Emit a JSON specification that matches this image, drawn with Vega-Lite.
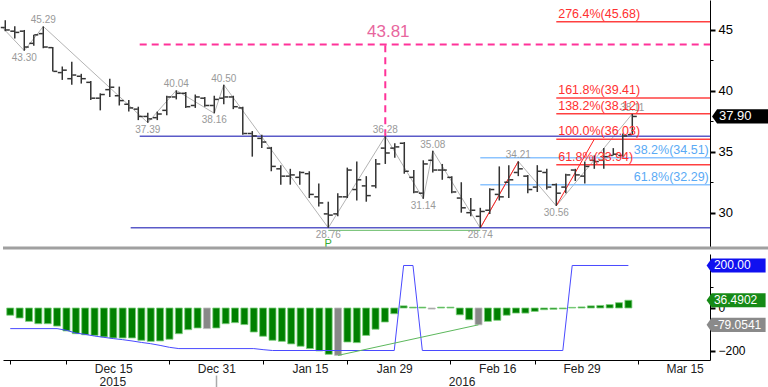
{
"$schema": "https://vega.github.io/schema/vega-lite/v6.json",
"padding": 0,
"spacing": 4,
"background": "white",
"config": {"view": {"stroke": null}, "font": "Liberation Sans", "axis": {"grid": false, "title": null, "labelFont": "Liberation Sans"}},
"datasets": {
"ohlc": [
{"i":0,"o":45.2,"h":45.8,"l":44.9,"c":45.0},
{"i":1,"o":44.9,"h":45.3,"l":44.3,"c":44.8},
{"i":2,"o":44.9,"h":45.0,"l":43.3,"c":43.6},
{"i":3,"o":43.9,"h":44.6,"l":43.7,"c":44.6},
{"i":4,"o":44.7,"h":45.29,"l":43.5,"c":43.6},
{"i":5,"o":43.55,"h":43.6,"l":41.6,"c":41.6},
{"i":6,"o":41.5,"h":42.0,"l":40.9,"c":41.7},
{"i":7,"o":41.0,"h":42.4,"l":40.5,"c":41.3},
{"i":8,"o":41.2,"h":41.4,"l":40.6,"c":41.0},
{"i":9,"o":40.7,"h":40.8,"l":39.25,"c":39.4},
{"i":10,"o":39.4,"h":39.8,"l":38.4,"c":39.7},
{"i":11,"o":40.1,"h":41.0,"l":39.5,"c":40.3},
{"i":12,"o":39.6,"h":40.35,"l":38.8,"c":39.2},
{"i":13,"o":38.9,"h":39.25,"l":38.3,"c":38.6},
{"i":14,"o":38.5,"h":38.7,"l":37.6,"c":37.9},
{"i":15,"o":37.9,"h":38.2,"l":37.39,"c":37.7},
{"i":16,"o":37.8,"h":38.3,"l":37.6,"c":38.1},
{"i":17,"o":38.4,"h":39.6,"l":38.0,"c":39.5},
{"i":18,"o":39.5,"h":40.04,"l":39.3,"c":39.8},
{"i":19,"o":39.8,"h":39.9,"l":38.6,"c":38.7},
{"i":20,"o":38.8,"h":39.7,"l":38.6,"c":39.5},
{"i":21,"o":39.4,"h":39.5,"l":38.7,"c":38.8},
{"i":22,"o":38.8,"h":39.6,"l":38.16,"c":39.3},
{"i":23,"o":39.4,"h":40.5,"l":38.9,"c":39.5},
{"i":24,"o":39.5,"h":39.6,"l":38.5,"c":38.7},
{"i":25,"o":38.6,"h":38.7,"l":36.4,"c":36.5},
{"i":26,"o":36.5,"h":36.7,"l":34.6,"c":36.3},
{"i":27,"o":36.1,"h":36.4,"l":35.3,"c":35.8},
{"i":28,"o":35.3,"h":35.4,"l":33.4,"c":33.8},
{"i":29,"o":33.6,"h":33.9,"l":32.3,"c":33.0},
{"i":30,"o":33.0,"h":33.6,"l":32.3,"c":33.1},
{"i":31,"o":32.9,"h":33.4,"l":32.3,"c":33.3},
{"i":32,"o":33.2,"h":33.4,"l":31.2,"c":31.5},
{"i":33,"o":31.3,"h":32.4,"l":30.5,"c":30.8},
{"i":34,"o":29.9,"h":30.9,"l":28.76,"c":29.8},
{"i":35,"o":29.9,"h":31.6,"l":29.7,"c":31.3},
{"i":36,"o":31.3,"h":33.7,"l":31.2,"c":33.5},
{"i":37,"o":31.9,"h":34.2,"l":31.0,"c":32.7},
{"i":38,"o":32.2,"h":33.0,"l":30.9,"c":31.4},
{"i":39,"o":32.2,"h":34.4,"l":32.0,"c":34.0},
{"i":40,"o":35.3,"h":36.28,"l":34.0,"c":34.9},
{"i":41,"o":35.3,"h":35.7,"l":34.5,"c":35.4},
{"i":42,"o":35.7,"h":35.8,"l":33.2,"c":33.4},
{"i":43,"o":32.9,"h":33.5,"l":31.6,"c":31.7},
{"i":44,"o":31.6,"h":34.3,"l":31.14,"c":34.0},
{"i":45,"o":34.3,"h":35.08,"l":33.3,"c":33.5},
{"i":46,"o":33.5,"h":34.0,"l":32.7,"c":33.5},
{"i":47,"o":32.9,"h":33.0,"l":31.6,"c":31.7},
{"i":48,"o":31.2,"h":32.5,"l":30.0,"c":30.4},
{"i":49,"o":30.0,"h":31.2,"l":29.7,"c":30.2},
{"i":50,"o":29.7,"h":30.4,"l":28.74,"c":30.1},
{"i":51,"o":30.2,"h":32.0,"l":29.9,"c":31.9},
{"i":52,"o":31.5,"h":33.8,"l":31.0,"c":31.3},
{"i":53,"o":32.5,"h":33.9,"l":31.2,"c":32.7},
{"i":54,"o":33.3,"h":34.21,"l":33.0,"c":33.6},
{"i":55,"o":33.0,"h":33.1,"l":31.6,"c":31.9},
{"i":56,"o":32.1,"h":33.9,"l":31.7,"c":33.4},
{"i":57,"o":33.3,"h":33.6,"l":31.9,"c":32.1},
{"i":58,"o":32.3,"h":32.4,"l":30.56,"c":31.6},
{"i":59,"o":32.1,"h":33.2,"l":31.6,"c":33.1},
{"i":60,"o":33.5,"h":33.6,"l":32.6,"c":33.1},
{"i":61,"o":33.0,"h":34.2,"l":32.4,"c":33.8},
{"i":62,"o":34.3,"h":34.7,"l":33.6,"c":34.2},
{"i":63,"o":34.3,"h":35.3,"l":33.6,"c":34.6},
{"i":64,"o":34.7,"h":35.3,"l":34.7,"c":34.8},
{"i":65,"o":34.7,"h":36.5,"l":34.6,"c":36.3},
{"i":66,"o":36.4,"h":38.11,"l":36.4,"c":37.9}
],
"zig": [
{"i":-0.24,"p":45.15,"lab":"","pos":"n"},
{"i":2,"p":43.30,"lab":"43.30","pos":"lo"},
{"i":4,"p":45.29,"lab":"45.29","pos":"hi"},
{"i":15,"p":37.39,"lab":"37.39","pos":"lo"},
{"i":18,"p":40.04,"lab":"40.04","pos":"hi"},
{"i":22,"p":38.16,"lab":"38.16","pos":"lo"},
{"i":23,"p":40.50,"lab":"40.50","pos":"hi"},
{"i":34,"p":28.76,"lab":"28.76","pos":"lo"},
{"i":40,"p":36.28,"lab":"36.28","pos":"hi"},
{"i":44,"p":31.14,"lab":"31.14","pos":"lo"},
{"i":45,"p":35.08,"lab":"35.08","pos":"hi"},
{"i":50,"p":28.74,"lab":"28.74","pos":"lo"},
{"i":54,"p":34.21,"lab":"34.21","pos":"hi"},
{"i":58,"p":30.56,"lab":"30.56","pos":"lo"},
{"i":66,"p":38.11,"lab":"38.11","pos":"hi"}
],
"hblue": [{"x1":14.15,"x2":74.18,"y":36.28},{"x1":13.2,"x2":74.18,"y":28.76}],
"vmag": [{"x":40,"y1":36.28,"y2":43.81}],
"hmag": [{"x1":14.15,"x2":74.18,"y":43.81}],
"fibred": [
{"x1":58,"x2":74.18,"tx":58.2,"y":45.68,"t":"276.4%(45.68)"},
{"x1":58,"x2":74.18,"tx":58.2,"y":39.41,"t":"161.8%(39.41)"},
{"x1":58,"x2":74.18,"tx":58.2,"y":38.12,"t":"138.2%(38.12)"},
{"x1":58,"x2":74.18,"tx":58.2,"y":36.03,"t":"100.0%(36.03)"},
{"x1":58,"x2":74.18,"tx":58.2,"y":33.94,"t":"61.8%(33.94)"}
],
"fibblue": [
{"x1":50,"x2":74.18,"tx":74.05,"y":34.51,"t":"38.2%(34.51)"},
{"x1":50,"x2":74.18,"tx":74.05,"y":32.29,"t":"61.8%(32.29)"}
],
"greenup": [{"x1":34,"x2":50,"y":28.55,"t":"P","ty":27.42}],
"legs": [{"g":"a","i":50,"p":28.74},{"g":"a","i":54,"p":34.21},{"g":"b","i":58,"p":30.56},{"g":"b","i":62,"p":36.03}],
"sepline": [{"x1":-0.24,"x2":80.6,"y":27.1}],
"tagup": [{"i":77.5,"ti":75.13,"v":37.9,"t":"37.90"}],
"hist": [
{"i":0,"v":-34,"hl":"n"},{"i":1,"v":-47,"hl":"n"},{"i":2,"v":-63,"hl":"n"},{"i":3,"v":-74,"hl":"n"},
{"i":4,"v":-74,"hl":"n"},{"i":5,"v":-85,"hl":"n"},{"i":6,"v":-108,"hl":"n"},{"i":7,"v":-121,"hl":"n"},
{"i":8,"v":-126,"hl":"n"},{"i":9,"v":-129,"hl":"n"},{"i":10,"v":-136,"hl":"n"},{"i":11,"v":-141,"hl":"n"},
{"i":12,"v":-141,"hl":"n"},{"i":13,"v":-141,"hl":"n"},{"i":14,"v":-152,"hl":"n"},{"i":15,"v":-157,"hl":"n"},
{"i":16,"v":-155,"hl":"n"},{"i":17,"v":-147,"hl":"n"},{"i":18,"v":-121,"hl":"n"},{"i":19,"v":-102,"hl":"n"},
{"i":20,"v":-94,"hl":"n"},{"i":21,"v":-97,"hl":"y"},{"i":22,"v":-94,"hl":"n"},{"i":23,"v":-74,"hl":"n"},
{"i":24,"v":-69,"hl":"n"},{"i":25,"v":-78,"hl":"n"},{"i":26,"v":-113,"hl":"n"},{"i":27,"v":-133,"hl":"n"},
{"i":28,"v":-152,"hl":"n"},{"i":29,"v":-157,"hl":"n"},{"i":30,"v":-169,"hl":"n"},{"i":31,"v":-180,"hl":"n"},
{"i":32,"v":-191,"hl":"n"},{"i":33,"v":-202,"hl":"n"},{"i":34,"v":-218,"hl":"n"},{"i":35,"v":-223,"hl":"y"},
{"i":36,"v":-160,"hl":"n"},{"i":37,"v":-163,"hl":"n"},{"i":38,"v":-129,"hl":"n"},{"i":39,"v":-100,"hl":"n"},
{"i":40,"v":-66,"hl":"n"},{"i":41,"v":-27,"hl":"n"},{"i":42,"v":10,"hl":"n"},{"i":43,"v":4,"hl":"n"},
{"i":44,"v":4,"hl":"n"},{"i":45,"v":-5,"hl":"y"},{"i":46,"v":4,"hl":"n"},{"i":47,"v":4,"hl":"n"},
{"i":48,"v":-32,"hl":"n"},{"i":49,"v":-55,"hl":"n"},{"i":50,"v":-79.05,"hl":"y"},{"i":51,"v":-63,"hl":"n"},
{"i":52,"v":-58,"hl":"n"},{"i":53,"v":-34,"hl":"n"},{"i":54,"v":-24,"hl":"n"},{"i":55,"v":-24,"hl":"n"},
{"i":56,"v":-16,"hl":"n"},{"i":57,"v":-8,"hl":"n"},{"i":58,"v":-6,"hl":"n"},{"i":59,"v":-4,"hl":"n"},
{"i":60,"v":3,"hl":"n"},{"i":61,"v":5,"hl":"n"},{"i":62,"v":10,"hl":"n"},{"i":63,"v":12,"hl":"n"},
{"i":64,"v":16,"hl":"n"},{"i":65,"v":25,"hl":"n"},{"i":66,"v":36.49,"hl":"n"}
],
"osc": [
{"i":0,"v":-97},{"i":5,"v":-97},{"i":6,"v":-105},{"i":7,"v":-118},{"i":8,"v":-124},{"i":9,"v":-132},
{"i":10,"v":-138},{"i":11,"v":-144},{"i":12,"v":-149},{"i":13,"v":-155},{"i":14,"v":-162},{"i":15,"v":-168},
{"i":16,"v":-176},{"i":17,"v":-185},{"i":18,"v":-191},{"i":26,"v":-191},{"i":27,"v":-196},{"i":28,"v":-200},
{"i":41,"v":-200},{"i":42,"v":200},{"i":43,"v":200},{"i":44,"v":-200},{"i":59,"v":-200},{"i":60,"v":200},{"i":66,"v":200}
],
"divlow": [{"i":35,"v":-223},{"i":50,"v":-79.05}],
"taglow": [
{"i":77.5,"ti":75.13,"v":200,"t":"200.00","k":"osc"},
{"i":77.5,"ti":75.13,"v":36.49,"t":"36.4902","k":"hist"},
{"i":77.5,"ti":75.13,"v":-79.05,"t":"-79.0541","k":"div"}
]
},
"vconcat": [
{
"width": 707, "height": 248,
"resolve": {"axis": {"x": "independent", "y": "independent"}},
"layer": [
{"data": {"name": "zig"}, "mark": {"type": "line", "color": "#b4b4b4", "strokeWidth": 1},
 "encoding": {
  "x": {"field": "i", "type": "quantitative", "scale": {"domain": [-0.24, 74.18], "nice": false, "zero": false}, "axis": null},
  "y": {"field": "p", "type": "quantitative", "scale": {"domain": [27.1, 47.46], "nice": false, "zero": false},
        "axis": {"orient": "right", "values": [30, 35, 40, 45], "tickSize": 5, "tickWidth": 2, "tickColor": "#000", "domainColor": "#000", "domainWidth": 1, "labelFontSize": 13, "labelColor": "#000", "labelPadding": 3}}}},
{"data": {"name": "hblue"}, "mark": {"type": "rule", "color": "#5a5ac8", "strokeWidth": 1.5},
 "encoding": {"x": {"field": "x1", "type": "quantitative", "axis": null}, "x2": {"field": "x2"},
  "y": {"field": "y", "type": "quantitative", "axis": {"orient": "right", "values": [32.5, 37.5, 42.5], "tickSize": 3, "tickColor": "#000", "labels": false, "domain": false}}}},
{"data": {"name": "hmag"}, "mark": {"type": "rule", "color": "#ff3399", "strokeWidth": 2, "strokeDash": [7, 5]},
 "encoding": {"x": {"field": "x1", "type": "quantitative", "axis": null}, "x2": {"field": "x2"}, "y": {"field": "y", "type": "quantitative", "axis": null}}},
{"data": {"name": "vmag"}, "mark": {"type": "rule", "color": "#ff3399", "strokeWidth": 2, "strokeDash": [7, 5]},
 "encoding": {"x": {"field": "x", "type": "quantitative", "axis": null}, "y": {"field": "y1", "type": "quantitative", "axis": null}, "y2": {"field": "y2"}}},
{"data": {"name": "vmag"}, "mark": {"type": "text", "color": "#e8669e", "fontSize": 17, "baseline": "bottom", "dy": -3, "dx": 3},
 "encoding": {"x": {"field": "x", "type": "quantitative", "axis": null}, "y": {"field": "y2", "type": "quantitative", "axis": null}, "text": {"value": "43.81"}}},
{"data": {"name": "fibred"}, "mark": {"type": "rule", "color": "#ff4040", "strokeWidth": 1.5},
 "encoding": {"x": {"field": "x1", "type": "quantitative", "axis": null}, "x2": {"field": "x2"}, "y": {"field": "y", "type": "quantitative", "axis": null}}},
{"data": {"name": "fibblue"}, "mark": {"type": "rule", "color": "#8cc4ff", "strokeWidth": 1.5},
 "encoding": {"x": {"field": "x1", "type": "quantitative", "axis": null}, "x2": {"field": "x2"}, "y": {"field": "y", "type": "quantitative", "axis": null}}},
{"data": {"name": "greenup"}, "mark": {"type": "rule", "color": "#66bb66", "strokeWidth": 1},
 "encoding": {"x": {"field": "x1", "type": "quantitative", "axis": null}, "x2": {"field": "x2"}, "y": {"field": "y", "type": "quantitative", "axis": null}}},
{"data": {"name": "greenup"}, "mark": {"type": "text", "color": "#33aa33", "fontSize": 11, "baseline": "middle"},
 "encoding": {"x": {"field": "x1", "type": "quantitative", "axis": null}, "y": {"field": "ty", "type": "quantitative", "axis": null}, "text": {"field": "t"}}},
{"data": {"name": "legs"}, "mark": {"type": "line", "color": "#ff2020", "strokeWidth": 1},
 "encoding": {"x": {"field": "i", "type": "quantitative", "axis": null}, "y": {"field": "p", "type": "quantitative", "axis": null}, "detail": {"field": "g"}}},
{"data": {"name": "ohlc"}, "mark": {"type": "rule", "color": "#333", "strokeWidth": 1.5},
 "encoding": {"x": {"field": "i", "type": "quantitative", "axis": null}, "y": {"field": "l", "type": "quantitative", "axis": null}, "y2": {"field": "h"}}},
{"data": {"name": "ohlc"}, "mark": {"type": "tick", "orient": "horizontal", "size": 4, "thickness": 1.5, "xOffset": -2.5, "color": "#333", "opacity": 1},
 "encoding": {"x": {"field": "i", "type": "quantitative", "axis": null}, "y": {"field": "o", "type": "quantitative", "axis": null}}},
{"data": {"name": "ohlc"}, "mark": {"type": "tick", "orient": "horizontal", "size": 4, "thickness": 1.5, "xOffset": 2.5, "color": "#333", "opacity": 1},
 "encoding": {"x": {"field": "i", "type": "quantitative", "axis": null}, "y": {"field": "c", "type": "quantitative", "axis": null}}},
{"data": {"name": "zig"}, "transform": [{"filter": "datum.pos == 'hi'"}], "mark": {"type": "text", "color": "#999", "fontSize": 10, "baseline": "bottom", "dy": -1},
 "encoding": {"x": {"field": "i", "type": "quantitative", "axis": null}, "y": {"field": "p", "type": "quantitative", "axis": null}, "text": {"field": "lab"}}},
{"data": {"name": "zig"}, "transform": [{"filter": "datum.pos == 'lo'"}], "mark": {"type": "text", "color": "#999", "fontSize": 10, "baseline": "top", "dy": 2},
 "encoding": {"x": {"field": "i", "type": "quantitative", "axis": null}, "y": {"field": "p", "type": "quantitative", "axis": null}, "text": {"field": "lab"}}},
{"data": {"name": "fibred"}, "mark": {"type": "text", "color": "#ff3030", "fontSize": 12.5, "align": "left", "baseline": "bottom", "dy": -1},
 "encoding": {"x": {"field": "tx", "type": "quantitative", "axis": null}, "y": {"field": "y", "type": "quantitative", "axis": null}, "text": {"field": "t"}}},
{"data": {"name": "fibblue"}, "mark": {"type": "text", "color": "#5aaaf5", "fontSize": 12.5, "align": "right", "baseline": "bottom", "dy": -1},
 "encoding": {"x": {"field": "tx", "type": "quantitative", "axis": null}, "y": {"field": "y", "type": "quantitative", "axis": null}, "text": {"field": "t"}}},
{"data": {"name": "sepline"}, "mark": {"type": "rule", "color": "#a0a0a0", "strokeWidth": 3},
 "encoding": {"x": {"field": "x1", "type": "quantitative", "axis": null}, "x2": {"field": "x2"}, "y": {"field": "y", "type": "quantitative", "axis": null}}},
{"data": {"name": "tagup"}, "mark": {"type": "point", "shape": "M-1,0L-0.83,-0.24L1,-0.24L1,0.24L-0.83,0.24Z", "size": 3481, "filled": true, "opacity": 1, "color": "#000", "strokeWidth": 0},
 "encoding": {"x": {"field": "i", "type": "quantitative", "axis": null}, "y": {"field": "v", "type": "quantitative", "axis": null}}},
{"data": {"name": "tagup"}, "mark": {"type": "text", "color": "#fff", "fontSize": 13, "align": "left", "baseline": "middle"},
 "encoding": {"x": {"field": "ti", "type": "quantitative", "axis": null}, "y": {"field": "v", "type": "quantitative", "axis": null}, "text": {"field": "t"}}}
]
},
{
"width": 707, "height": 106,
"resolve": {"axis": {"x": "independent", "y": "independent"}},
"layer": [
{"data": {"name": "hist"}, "mark": {"type": "bar", "size": 7, "strokeWidth": 0.8},
 "encoding": {
  "x": {"field": "i", "type": "quantitative", "scale": {"domain": [-0.24, 74.18], "nice": false, "zero": false},
        "axis": {"orient": "bottom", "values": [11, 22, 32, 41, 52, 61, 72], "labelExpr": "datum.value == 11 ? 'Dec 15' : datum.value == 22 ? 'Dec 31' : datum.value == 32 ? 'Jan 15' : datum.value == 41 ? 'Jan 29' : datum.value == 52 ? 'Feb 16' : datum.value == 61 ? 'Feb 29' : 'Mar 15'", "ticks": false, "domainColor": "#000", "labelFontSize": 12, "labelColor": "#222", "labelPadding": 3, "labelFlush": false}},
  "y": {"field": "v", "type": "quantitative", "scale": {"domain": [-244.7, 254.1], "nice": false, "zero": false},
        "axis": {"orient": "right", "values": [-200, 0, 200], "tickSize": 5, "tickWidth": 2, "tickColor": "#000", "domainColor": "#000", "labelFontSize": 12, "labelColor": "#000", "labelPadding": 3}},
  "y2": {"datum": 0},
  "fill": {"field": "hl", "type": "nominal", "scale": {"domain": ["n", "y"], "range": ["#008000", "#888888"]}, "legend": null},
  "stroke": {"field": "hl", "type": "nominal", "scale": {"domain": ["n", "y"], "range": ["#7ccf7c", "#c0c0c0"]}, "legend": null}}},
{"data": {"name": "osc"}, "mark": {"type": "line", "color": "#4a4aff", "strokeWidth": 1},
 "encoding": {
  "x": {"field": "i", "type": "quantitative", "axis": {"orient": "bottom", "values": [0, 6, 17, 27, 36, 47, 56, 67], "labels": false, "domain": false, "tickSize": 4, "tickColor": "#000"}},
  "y": {"field": "v", "type": "quantitative", "axis": {"orient": "right", "values": [-100, 100], "tickSize": 3, "tickColor": "#000", "labels": false, "domain": false}}}},
{"data": {"name": "divlow"}, "mark": {"type": "line", "color": "#5cb85c", "strokeWidth": 1},
 "encoding": {
  "x": {"field": "i", "type": "quantitative", "axis": {"orient": "bottom", "values": [10.9, 48.2], "labelExpr": "datum.value < 30 ? '2015' : '2016'", "ticks": false, "domain": false, "labelPadding": 16, "labelFontSize": 12, "labelColor": "#222", "labelFlush": false}},
  "y": {"field": "v", "type": "quantitative", "axis": null}}},
{"data": {"name": "taglow"}, "mark": {"type": "point", "shape": "M-1,0L-0.83,-0.24L1,-0.24L1,0.24L-0.83,0.24Z", "size": 3481, "filled": true, "opacity": 1, "strokeWidth": 0},
 "encoding": {
  "x": {"field": "i", "type": "quantitative", "axis": {"orient": "bottom", "values": [22], "labels": false, "domain": false, "offset": 15, "tickSize": 14, "tickColor": "#aaa", "tickWidth": 1.5}},
  "y": {"field": "v", "type": "quantitative", "axis": null},
  "color": {"field": "k", "type": "nominal", "scale": {"domain": ["osc", "hist", "div"], "range": ["#1010f0", "#168a16", "#8a8a8a"]}, "legend": null}}},
{"data": {"name": "taglow"}, "mark": {"type": "text", "color": "#fff", "fontSize": 12, "align": "left", "baseline": "middle"},
 "encoding": {"x": {"field": "ti", "type": "quantitative", "axis": null}, "y": {"field": "v", "type": "quantitative", "axis": null}, "text": {"field": "t"}}}
]
}
]
}
